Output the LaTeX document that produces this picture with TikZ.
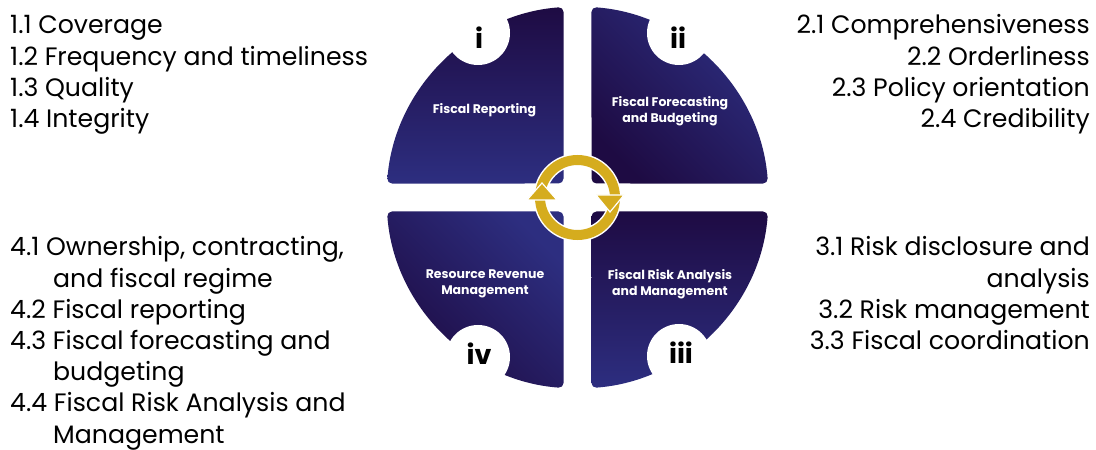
\documentclass[tikz,border=0pt]{standalone}
\usepackage{fontspec}
\setmainfont{Poppins}
\usetikzlibrary{calc}

\definecolor{navydark}{HTML}{1E0B43}
\definecolor{navylight}{HTML}{2D2E80}
\definecolor{ringgold}{HTML}{D5AC1E}

\begin{document}
\begin{tikzpicture}[x=1pt, y=1pt,
  quadrant/.style={rounded corners=5pt},
  notch/.style={circle, fill=white, minimum size=64pt, inner sep=0pt},
  numeral/.style={font=\fontsize{27}{30}\selectfont\bfseries, text=black, inner sep=0pt},
  pillar/.style={font=\fontsize{12.5}{16}\selectfont\bfseries, text=white, align=center, inner sep=0pt},
  listtext/.style={font=\fontsize{25.2}{31.2}\selectfont, text=black, inner sep=0pt},
]
\useasboundingbox (0,0) rectangle (1096,450);
\fill[white] (0,0) rectangle (1096,450);

\coordinate (C) at (577.5,252.5);

% four quarter pieces of the disc, separated by a cross-shaped gap
\begin{scope}[shift={(C)}]
  \path[quadrant, top color=navydark, bottom color=navylight]
    (-14,14) -- (175.8:191) arc[start angle=175.8, end angle=94.2, radius=191] -- cycle;
  \path[quadrant, top color=navylight, bottom color=navydark, shading angle=-45]
    (14,14) -- (4.2:191) arc[start angle=4.2, end angle=85.8, radius=191] -- cycle;
  \path[quadrant, top color=navylight, bottom color=navydark, shading angle=-45]
    (-14,-14) -- (-175.8:191) arc[start angle=-175.8, end angle=-94.2, radius=191] -- cycle;
  \path[quadrant, top color=navydark, bottom color=navylight]
    (14,-14) -- (-4.2:191) arc[start angle=-4.2, end angle=-85.8, radius=191] -- cycle;
\end{scope}

% white notches with the pillar numbers
\node[notch] (n1) at (478,417) {};
\node[notch] (n2) at (679,417) {};
\node[notch] (n3) at (679,94) {};
\node[notch] (n4) at (478,93) {};
\node[numeral, anchor=base] (r1) at (479,401) {i};
\node[numeral, anchor=base] (r2) at (678,401) {ii};
\node[numeral, anchor=base] (r3) at (681,86) {iii};
\node[numeral, anchor=base] (r4) at (479,85) {iv};

% pillar titles
\node[pillar] (p1) at (484.5,340) {Fiscal Reporting};
\node[pillar] (p2) at (670,339) {Fiscal Forecasting\\and Budgeting};
\node[pillar] (p3) at (485,166) {Resource Revenue\\Management};
\node[pillar] (p4) at (670,166) {Fiscal Risk Analysis\\and Management};

% circular arrows in the middle
\draw[white, line width=13pt] (C) circle (37.5);
\draw[ringgold, line width=10pt] (C) circle (37.5);
\filldraw[ringgold, draw=white, line width=1.2pt, line join=miter]
  (527,250) -- (557,250) -- (542,267) -- cycle;
\filldraw[ringgold, draw=white, line width=1.2pt, line join=miter]
  (596,255) -- (624,255) -- (610,238) -- cycle;

% dimension lists
\node[listtext, align=left, anchor=north west] (l1) at (10,434.5)
  {1.1 Coverage\\1.2 Frequency and timeliness\\1.3 Quality\\1.4 Integrity};
\node[listtext, align=right, anchor=north east] (l2) at (1090,435.5)
  {2.1 Comprehensiveness\\2.2 Orderliness\\2.3 Policy orientation\\2.4 Credibility};
\node[listtext, align=right, anchor=north east] (l3) at (1090,213.5)
  {3.1 Risk disclosure and\\analysis\\3.2 Risk management\\3.3 Fiscal coordination};
\node[listtext, align=left, anchor=north west] (l4) at (10,213.5)
  {4.1 Ownership, contracting,\\\hspace*{43pt}and fiscal regime\\4.2 Fiscal reporting\\4.3 Fiscal forecasting and\\\hspace*{43pt}budgeting\\4.4 Fiscal Risk Analysis and\\\hspace*{43pt}Management};
\end{tikzpicture}
\end{document}
